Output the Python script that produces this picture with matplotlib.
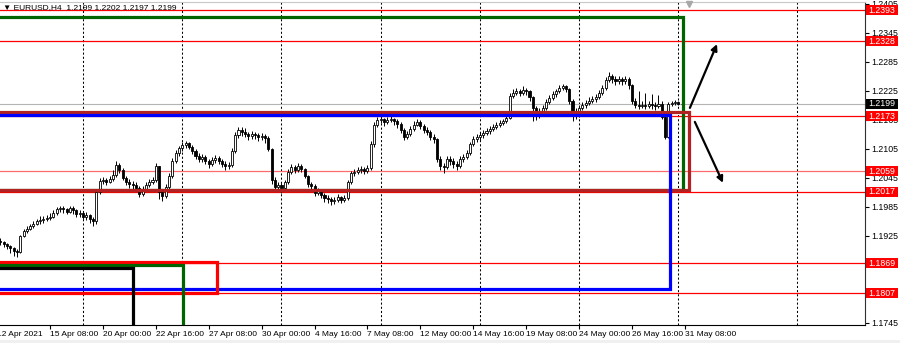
import numpy as np
import matplotlib
matplotlib.use("Agg")
import matplotlib.pyplot as plt
from matplotlib.patches import Rectangle
from matplotlib.transforms import IdentityTransform

plt.rcParams['font.family'] = ['Liberation Sans', 'DejaVu Sans']

# EURUSD H4 candles, bar 0 = 12 Apr 2021 00:00, values in pips above 1.1800
first_bar = 5
first_open = 115
close_pips = [
    112, 108, 104, 100, 94, 92, 125, 135, 140, 145,
    150, 155, 158, 160, 162, 165, 172, 180, 182, 180,
    175, 182, 178, 170, 172, 165, 168, 160, 155, 215,
    238, 240, 236, 242, 252, 272, 262, 245, 236, 232,
    230, 225, 212, 222, 230, 236, 240, 270, 215, 208,
    226, 250, 280, 296, 306, 314, 318, 310, 300, 290,
    284, 288, 280, 274, 282, 286, 280, 274, 270, 272,
    300, 334, 344, 340, 336, 332, 336, 334, 330, 332,
    328, 305, 240, 226, 230, 224, 236, 258, 268, 262,
    270, 264, 250, 232, 228, 214, 218, 210, 204, 202,
    198, 200, 206, 200, 204, 236, 255, 258, 262, 264,
    260, 266, 315, 355, 364, 368, 360, 365, 368, 362,
    356, 345, 330, 336, 346, 355, 360, 352, 345, 340,
    330, 325, 285, 270, 268, 285, 280, 274, 270, 284,
    288, 296, 315, 325, 330, 334, 338, 342, 346, 350,
    354, 358, 362, 370, 415, 420, 425, 420, 428, 424,
    412, 390, 378, 384, 390, 402, 410, 418, 425, 432,
    436, 430, 405, 382, 378, 390, 395, 400, 405, 408,
    412, 420, 432, 448, 456, 450, 446, 450, 446, 450,
    438, 405, 396, 394, 397, 394, 398, 395, 393, 398,
    372, 330, 398, 400, 402, 399, 399]
high_pips = [
    120, 114, 110, 106, 102, 98, 128, 140, 146, 150,
    156, 160, 166, 166, 168, 172, 178, 185, 188, 186,
    183, 188, 186, 180, 178, 175, 174, 170, 165, 222,
    244, 248, 244, 250, 262, 280, 276, 265, 250, 242,
    238, 236, 228, 228, 236, 242, 248, 276, 270, 220,
    232, 256, 286, 302, 312, 320, 322, 320, 314, 304,
    296, 294, 292, 284, 288, 292, 290, 284, 280, 278,
    306, 340, 350, 350, 348, 340, 342, 340, 338, 338,
    336, 332, 308, 246, 236, 234, 240, 264, 274, 272,
    276, 274, 266, 252, 236, 232, 224, 222, 214, 210,
    206, 206, 212, 208, 210, 240, 260, 264, 268, 270,
    268, 272, 322, 360, 372, 375, 370, 372, 374, 370,
    366, 360, 348, 342, 352, 362, 368, 364, 356, 350,
    344, 336, 328, 290, 276, 290, 290, 286, 280, 290,
    294, 302, 320, 332, 336, 340, 344, 348, 352, 356,
    360, 364, 368, 376, 420, 430, 432, 430, 436, 432,
    428, 414, 394, 390, 396, 408, 416, 424, 430, 438,
    440, 438, 432, 408, 390, 396, 402, 406, 412, 414,
    418, 426, 438, 454, 464, 460, 456, 456, 454, 456,
    454, 440, 410, 424, 404, 420, 405, 418, 402, 416,
    404, 374, 402, 405, 406, 404, 402]
low_pips = [
    106, 102, 98, 90, 84, 82, 90, 122, 132, 138,
    142, 148, 150, 152, 155, 158, 162, 168, 175, 172,
    170, 172, 170, 165, 164, 160, 158, 152, 146, 150,
    212, 232, 230, 234, 238, 248, 255, 240, 230, 225,
    222, 218, 205, 208, 220, 226, 232, 236, 202, 198,
    204, 222, 245, 275, 290, 300, 306, 304, 294, 284,
    278, 278, 274, 266, 270, 276, 274, 268, 262, 264,
    268, 296, 328, 332, 330, 324, 326, 326, 322, 324,
    318, 300, 232, 220, 220, 214, 220, 232, 254, 256,
    258, 258, 244, 226, 220, 208, 210, 204, 196, 194,
    190, 192, 196, 194, 196, 200, 232, 250, 254, 256,
    254, 256, 262, 310, 350, 358, 352, 356, 360, 354,
    348, 338, 324, 326, 332, 342, 352, 346, 338, 334,
    324, 318, 278, 262, 256, 264, 272, 266, 262, 266,
    278, 284, 292, 312, 320, 324, 328, 334, 336, 342,
    346, 350, 354, 358, 366, 410, 416, 414, 416, 416,
    404, 362, 364, 370, 378, 386, 398, 406, 412, 420,
    426, 422, 398, 362, 366, 372, 386, 390, 396, 400,
    402, 408, 416, 428, 444, 442, 438, 440, 438, 440,
    430, 398, 390, 388, 390, 388, 390, 388, 386, 390,
    368, 326, 328, 394, 396, 395, 397]

# horizontal levels drawn on the chart
levels = [1.2393, 1.2328, 1.2173, 1.2059, 1.2017, 1.1869, 1.1807]
current_price = 1.2199

# rectangles: right edge (bar), top and bottom price; left edge is off chart
box_right = [211.4, 213.2, 207.6, 70.5, 60.1, 45.2]
box_top = [1.2378, 1.2182, 1.2176, 1.1872, 1.1865, 1.1859]
box_bottom = [1.2020, 1.2020, 1.1816, 1.1808, 1.1600, 1.1600]
box_colors = ['#006400', '#b22222', '#0000ff', '#ff0000', '#006400', '#000000']

# trend arrows (bar, price) start -> end
arrow_up = [(213.5, 1.2190), (221.7, 1.2322)]
arrow_down = [(215.0, 1.2161), (223.5, 1.2035)]

tick_bars = [4, 20, 36, 52, 68, 84, 100, 116, 132, 148, 164, 180, 196, 212]
tick_labels = ['12 Apr 2021', '15 Apr 08:00', '20 Apr 00:00', '22 Apr 16:00',
               '27 Apr 08:00', '30 Apr 00:00', '4 May 16:00', '7 May 08:00',
               '12 May 00:00', '14 May 16:00', '19 May 08:00', '24 May 00:00',
               '26 May 16:00', '31 May 08:00']
grid_bars = [30, 60, 90, 120, 150, 180, 210, 246]
price_ticks = [1.2405, 1.2345, 1.2285, 1.2225, 1.2165, 1.2105, 1.2045,
               1.1985, 1.1925, 1.1865, 1.1805, 1.1745]

closes = 1.18 + np.array(close_pips) / 10000
highs = 1.18 + np.array(high_pips) / 10000
lows = 1.18 + np.array(low_pips) / 10000
opens = np.concatenate([[1.18 + first_open / 10000], closes[:-1]])
bars = np.arange(first_bar, first_bar + len(closes))

W, H = 900, 343
fig = plt.figure(figsize=(W / 100, H / 100), dpi=100)
fig.patch.set_facecolor('white')
ax = fig.add_axes([-4 / W, 18 / H, 869 / W, 323 / H])
ax.set_xlim(3.67, 266.45)
ax.set_ylim(1.17408, 1.24091)

# grid
for b in grid_bars:
    ax.axvline(b, color='black', lw=0.75, ls=(0, (2, 2)), zorder=1)

# level lines
ax.axhline(current_price, color='#b4b4b4', lw=0.8, zorder=1.2)
for lvl in levels:
    col = '#ff6a6a' if lvl == 1.2059 else '#ff0000'
    ax.axhline(lvl, color=col, lw=0.9, zorder=1.3)

# candles
up = closes >= opens
ax.vlines(bars, lows, highs, color='black', lw=0.7, zorder=2)
ax.bar(bars[up], closes[up] - opens[up], bottom=opens[up], width=0.62,
       color='white', edgecolor='black', lw=0.6, zorder=2.1)
ax.bar(bars[~up], closes[~up] - opens[~up], bottom=opens[~up], width=0.62,
       color='black', edgecolor='black', lw=0.6, zorder=2.1)

# rectangles
for r, t, bt, c in zip(box_right, box_top, box_bottom, box_colors):
    ax.plot([-10, r, r, -10], [t, t, bt, bt], color=c, lw=2.3,
            solid_joinstyle='miter', zorder=3)

# arrows
for a in (arrow_up, arrow_down):
    ax.annotate('', xy=a[1], xytext=a[0],
                arrowprops=dict(arrowstyle='-|>', color='black', lw=1.6,
                                mutation_scale=9, shrinkA=0, shrinkB=0),
                zorder=4)

# shift marker at top
ax.plot(213.3, 1.2405, marker='v', ms=5, color='#a8a8a8', clip_on=False, zorder=5)

# axes styling
ax.spines['left'].set_visible(False)
ax.spines['top'].set_color('#c8c8c8')
ax.spines['right'].set_color('#303030')
ax.spines['bottom'].set_color('black')
ax.yaxis.tick_right()
ax.set_yticks(price_ticks)
ax.set_yticklabels([f'{p:.4f}' for p in price_ticks])
ax.tick_params(axis='y', labelsize=6.3, length=3, width=0.8, pad=1.5)
ax.set_xticks(tick_bars)
ax.set_xticklabels(tick_labels, ha='left')
ax.tick_params(axis='x', labelsize=6, length=3, width=0.8, pad=1.5)

# price label boxes on the right scale
fig.canvas.draw()
def price_box(price, face):
    y = ax.transData.transform((0, price))[1]
    fig.add_artist(Rectangle((866, y - 5), 32, 10, transform=IdentityTransform(),
                             facecolor=face, edgecolor='none', zorder=5))
    fig.text(868 / W, (y - 0.3) / H, f'{price:.4f}', color='white', fontsize=6.3,
             ha='left', va='center', zorder=6)

for lvl in levels:
    price_box(lvl, '#ff0000')
price_box(current_price, '#000000')

# header
fig.text(3 / W, 1 - 8 / H, '\u25bc EURUSD,H4  1.2199 1.2202 1.2197 1.2199',
         fontsize=6, color='black', ha='left', va='center', zorder=7)

# bottom strip of the window
fig.add_artist(Rectangle((0, 0), W, 3, transform=IdentityTransform(),
                         facecolor='#f0f0f0', edgecolor='none', zorder=0))

fig.savefig('out.png', dpi=100)
